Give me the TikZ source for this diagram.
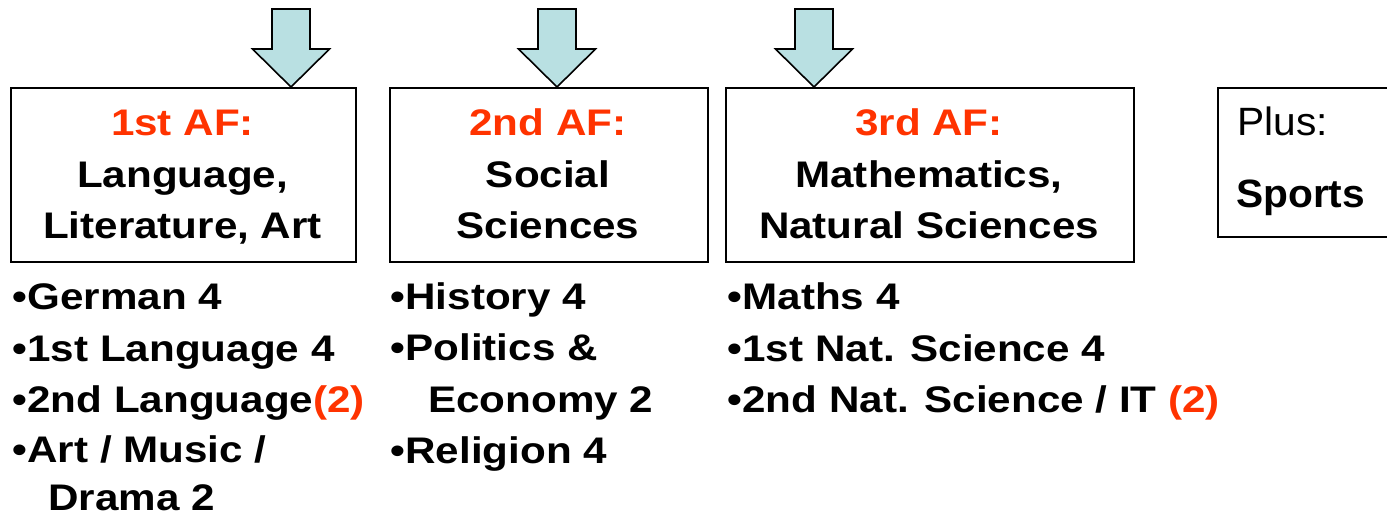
\documentclass[tikz,border=0pt]{standalone}
\usepackage{fontspec}
\setmainfont{Liberation Sans}[FakeStretch=1.14]
\newfontfamily\plusfont{Liberation Sans}[FakeStretch=1.03]
\definecolor{afred}{RGB}{255,51,0}
\definecolor{afcyan}{RGB}{185,224,226}
\tikzset{
  box/.style={draw=black, line width=1.8pt, fill=white, inner sep=0pt, anchor=north west},
  afarrow/.style={draw=black, line width=1.6pt, fill=afcyan, line join=miter},
  txt/.style={inner sep=0pt, font=\fontsize{37}{40}\selectfont\bfseries},
  ttl/.style={txt, anchor=base},
  itm/.style={txt, anchor=base west},
  plustxt/.style={inner sep=0pt, anchor=base west, font=\plusfont\fontsize{39.5}{40}\selectfont}
}
\begin{document}
\begin{tikzpicture}[x=1pt,y=-1pt]
\useasboundingbox (0,0) rectangle (1387,515);
\clip (0,0) rectangle (1387,515);
% boxes
\node[box, minimum width=345pt, minimum height=174pt] (b1) at (10,87) {};
\node[box, minimum width=318pt, minimum height=174pt] (b2) at (389,87) {};
\node[box, minimum width=408pt, minimum height=174pt] (b3) at (725,87) {};
\node[box, minimum width=190pt, minimum height=149pt] (b4) at (1217,87) {};
% arrows
\coordinate (t1) at (291,87);
\coordinate (t2) at (557,87);
\coordinate (t3) at (814,87);
\foreach \t in {t1,t2,t3}{
  \draw[afarrow] (\t) -- ++(-38.5,-38) -- ++(19.5,0) -- ++(0,-40) -- ++(38,0) -- ++(0,40) -- ++(19.5,0) -- cycle;
}
% box titles
\node[ttl, text=afred] (h1a) at (182.5,135) {1st AF:};
\node[ttl] (h1b) at (182.5,187) {Language,};
\node[ttl] (h1c) at (182.5,238) {Literature, Art};
\node[ttl, text=afred] (h2a) at (548,135) {2nd AF:};
\node[ttl] (h2b) at (548,187) {Social};
\node[ttl] (h2c) at (548,238) {Sciences};
\node[ttl, text=afred] (h3a) at (929,135) {3rd AF:};
\node[ttl] (h3b) at (929,187) {Mathematics,};
\node[ttl] (h3c) at (929,238) {Natural Sciences};
\node[plustxt] (p1) at (1237,135) {Plus:};
\node[plustxt, font=\plusfont\fontsize{39.5}{40}\selectfont\bfseries] (p2) at (1236,207) {Sports};
% lists
\node[itm] (l11) at (12.5,309) {•German 4};
\node[itm] (l12) at (12.5,361) {•1st Language 4};
\node[itm] (l13) at (12.5,412.5) {•2nd Language\textcolor{afred}{(2)}};
\node[itm] (l14) at (12.5,462.5) {•Art / Music /};
\node[itm] (l15) at (48,510) {Drama 2};
\node[itm] (l21) at (390.5,309) {•History 4};
\node[itm] (l22) at (390.5,360.5) {•Politics \&};
\node[itm] (l23) at (428,412) {Economy 2};
\node[itm] (l24) at (390.5,463) {•Religion 4};
\node[itm] (l31) at (727.5,309) {•Maths 4};
\node[itm] (l32) at (727.5,361) {•1st Nat. Science 4};
\node[itm] (l33) at (727.5,412) {•2nd Nat. Science / IT \textcolor{afred}{(2)}};
\end{tikzpicture}
\end{document}
